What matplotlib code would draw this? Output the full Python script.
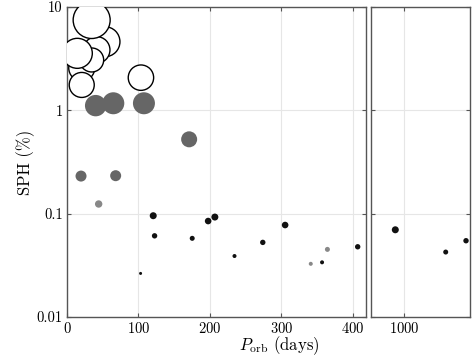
import matplotlib
matplotlib.use("Agg")
import matplotlib.pyplot as plt
import numpy as np

plt.rcParams["font.family"] = "serif"
plt.rcParams["font.serif"] = ["cmr10", "DejaVu Serif"]
plt.rcParams["mathtext.fontset"] = "cm"
plt.rcParams["axes.formatter.use_mathtext"] = True
plt.rcParams["axes.unicode_minus"] = False

# orbital period (days), SPH (%), marker radius (px)
# open circles (largest signals)
p_open = [53.1, 41.5, 20.6, 34.5, 34.5, 14.4, 20.6, 103.5]
sph_open = [4.61, 3.84, 2.57, 3.07, 7.48, 3.56, 1.76, 2.07]
r_open = [15.0, 13.3, 13.0, 12.0, 18.5, 15.0, 12.5, 12.7]

# dark grey filled
p_grey = [40.1, 64.8, 107.7, 171.0, 19.6, 68.1]
sph_grey = [1.11, 1.17, 1.17, 0.524, 0.231, 0.233]
r_grey = [10.7, 11.0, 11.0, 8.0, 5.5, 5.5]

# light grey filled
p_light = [44.3, 341.3, 364.6]
sph_light = [0.124, 0.0327, 0.0451]
r_light = [3.7, 2.0, 2.5]

# black filled
p_black = [120.7, 122.6, 175.3, 197.6, 207.0, 234.5, 103.0,
           274.1, 305.4, 357.1, 407.0, 987.8, 1058.3, 1086.7]
sph_black = [0.0955, 0.061, 0.0577, 0.0848, 0.0927, 0.0389, 0.0264,
             0.0527, 0.0776, 0.0338, 0.0478, 0.0698, 0.0425, 0.0547]
r_black = [3.5, 2.7, 2.5, 3.3, 3.5, 2.0, 1.5,
           2.7, 3.3, 2.0, 2.7, 3.5, 2.5, 2.7]


def msize(r):
    # radius in pixels (dpi 100) -> scatter size in pt^2
    return (np.asarray(r) * 2 * 0.72) ** 2


fig = plt.figure(figsize=(4.74, 3.56), dpi=100)
ax = fig.add_axes([0.1414, 0.1096, 0.6307, 0.8708])
ax2 = fig.add_axes([0.7827, 0.1096, 0.2089, 0.8708])

for a in (ax, ax2):
    a.scatter(p_grey, sph_grey, s=msize(r_grey), c="#666666", edgecolors="none", zorder=3)
    a.scatter(p_light, sph_light, s=msize(r_light), c="#888888", edgecolors="none", zorder=3)
    a.scatter(p_black, sph_black, s=msize(r_black), c="#111111", edgecolors="none", zorder=3)
    a.scatter(p_open, sph_open, s=msize(r_open), c="white", edgecolors="black",
              linewidths=1.0, zorder=4)
    a.set_yscale("log")
    a.set_ylim(0.01, 10)
    a.grid(True, color="#e6e6e6", linewidth=0.8)
    a.set_axisbelow(True)
    a.tick_params(which="both", direction="in", top=True, right=True,
                  length=3, color="#555555", labelsize=10.5, pad=3)
    a.tick_params(which="minor", length=0)
    for sp in a.spines.values():
        sp.set_color("#555555")
        sp.set_linewidth(1.0)

ax.set_xlim(0, 418.6)
ax.set_xticks([0, 100, 200, 300, 400])
ax.set_yticks([0.01, 0.1, 1, 10])
ax.set_yticklabels(["0.01", "0.1", "1", "10"])
ax.set_ylabel("SPH (%)", fontsize=12, labelpad=1)
ax.set_xlabel(r"$P_{\rm orb}$ (days)", fontsize=12, x=0.709, labelpad=-1)

ax2.set_xlim(953.8, 1092.3)
ax2.set_xticks([1000])
ax2.set_yticks([0.01, 0.1, 1, 10])
ax2.set_yticklabels([])

fig.savefig("out.png", dpi=100)
